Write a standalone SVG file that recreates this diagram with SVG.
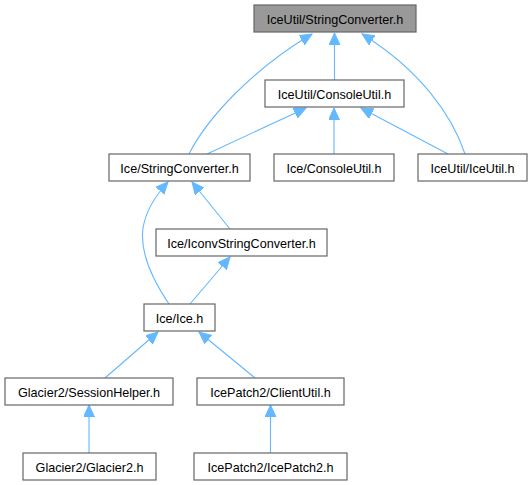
<svg xmlns="http://www.w3.org/2000/svg" width="532" height="485" viewBox="0 0 532 485">
<defs>
<marker id="arr" markerUnits="userSpaceOnUse" markerWidth="13" markerHeight="12" refX="12" refY="5.5" orient="auto">
<path d="M0,0 L12,5.5 L0,11 z" fill="#63b8ff" stroke="#63b8ff" stroke-width="1"/>
</marker>
</defs>
<style>
rect.n{fill:#ffffff;stroke:#666666;stroke-width:1.2}
rect.top{fill:#999999;stroke:#666666;stroke-width:1.2}
text{font-family:"Liberation Sans",Arial,sans-serif;font-size:12.6px;fill:#000000;text-anchor:middle}
.e path{fill:none;stroke:#63b8ff;stroke-width:1.1;marker-end:url(#arr)}
</style>
<rect width="532" height="485" fill="#ffffff"/>
<g class="e" id="edges">
<path d="M334.5,80 L334.5,33"/>
<path d="M189,154 C205,122 248,72 312,34"/>
<path d="M465,154 C452,115 420,70 362,34"/>
<path d="M207,154 L306,108"/>
<path d="M334,154 L334,108"/>
<path d="M448,154 L361,108"/>
<path d="M169,304 C150,276 140,250 143,228 C146,210 156,195 168,182"/>
<path d="M230,229 L192,182"/>
<path d="M190,304 L230,257"/>
<path d="M105,378 L158,332"/>
<path d="M255,378 L199,332"/>
<path d="M89,453 L89,405"/>
<path d="M270.5,453 L270.5,405"/>
</g>
<g id="n_top"><rect class="top" x="254" y="5" width="162" height="27"/><text x="335" y="23.5">IceUtil/StringConverter.h</text></g>
<g id="n_iceutil_consoleutil"><rect class="n" x="265" y="80" width="139" height="27"/><text x="334.5" y="98.5">IceUtil/ConsoleUtil.h</text></g>
<g id="n_ice_stringconverter"><rect class="n" x="109" y="154" width="141" height="27"/><text x="179.5" y="172.5">Ice/StringConverter.h</text></g>
<g id="n_ice_consoleutil"><rect class="n" x="274" y="154" width="120" height="27"/><text x="334" y="172.5">Ice/ConsoleUtil.h</text></g>
<g id="n_iceutil_iceutil"><rect class="n" x="418" y="154" width="109" height="27"/><text x="472.5" y="172.5">IceUtil/IceUtil.h</text></g>
<g id="n_iconv"><rect class="n" x="156" y="229" width="171" height="27"/><text x="241.5" y="247.5">Ice/IconvStringConverter.h</text></g>
<g id="n_ice"><rect class="n" x="144" y="304" width="71" height="27"/><text x="179.5" y="322.5">Ice/Ice.h</text></g>
<g id="n_sessionhelper"><rect class="n" x="5" y="378" width="168" height="27"/><text x="89" y="396.5">Glacier2/SessionHelper.h</text></g>
<g id="n_clientutil"><rect class="n" x="197" y="378" width="147" height="27"/><text x="270.5" y="396.5">IcePatch2/ClientUtil.h</text></g>
<g id="n_glacier2"><rect class="n" x="23" y="453" width="133" height="27"/><text x="89.5" y="471.5">Glacier2/Glacier2.h</text></g>
<g id="n_icepatch2"><rect class="n" x="194" y="453" width="153" height="27"/><text x="270.5" y="471.5">IcePatch2/IcePatch2.h</text></g>
</svg>
